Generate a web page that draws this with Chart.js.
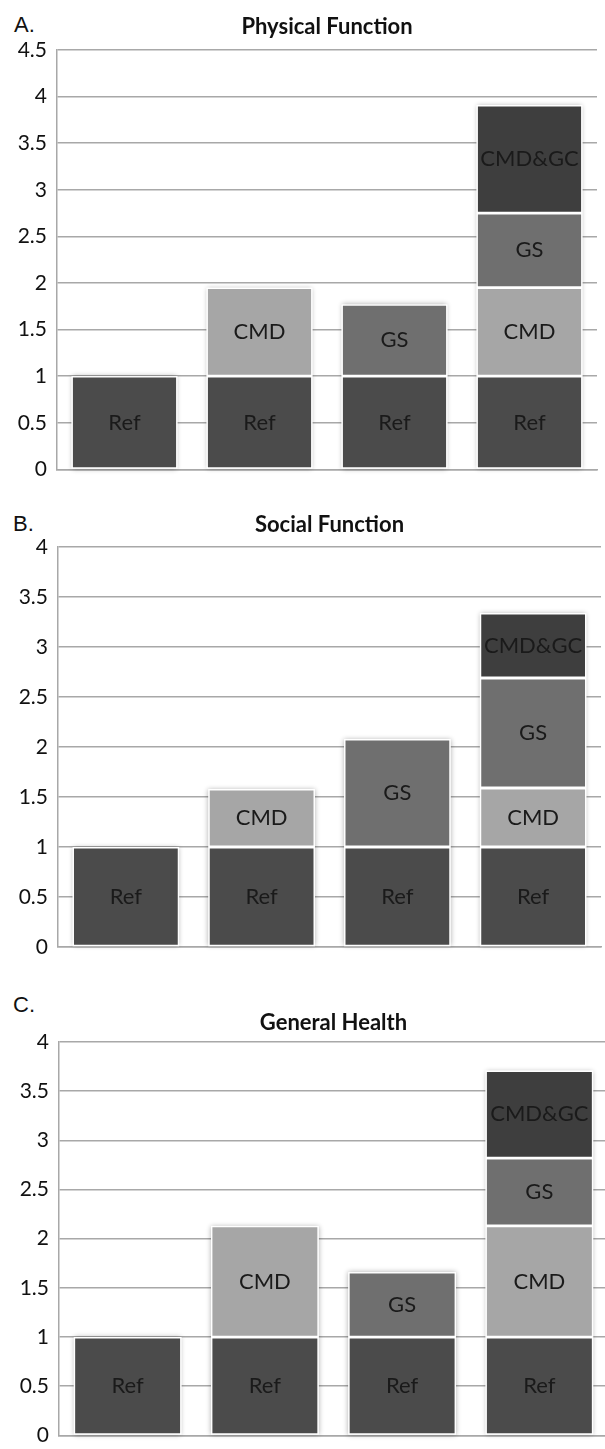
<!DOCTYPE html>
<html>
<head>
<meta charset="utf-8">
<script src="https://cdn.jsdelivr.net/npm/chart.js@4.4.1/dist/chart.umd.min.js"></script>
<style>
  html, body { margin: 0; padding: 0; background: #ffffff; width: 605px; height: 1449px; overflow: hidden; }
  .panel { position: absolute; left: 0; }
  .letter { position: absolute; left: 13px; font-family: "Liberation Sans", Arial, sans-serif; font-size: 22px; line-height: 22px; color: #111; }
</style>
</head>
<body>
<div class="letter" style="top:14px;left:14px">A.</div>
<div class="letter" style="top:513px">B.</div>
<div class="letter" style="top:994px">C.</div>
<canvas id="chartA" class="panel" style="top:0px" width="605" height="492"></canvas>
<canvas id="chartB" class="panel" style="top:483px" width="605" height="492"></canvas>
<canvas id="chartC" class="panel" style="top:966px" width="612" height="492"></canvas>
<script>
// ---------- DATA ----------
const categories = ["Reference", "CMD", "GS", "CMD & GS"];
const seriesNames = ["Ref", "CMD", "GS", "CMD&GC"];

// A. Physical Function (stacked segment sizes)
const physRef   = [1, 1, 1, 1];
const physCMD   = [null, 0.95, null, 0.95];
const physGS    = [null, null, 0.77, 0.80];
const physCMDGC = [null, null, null, 1.16];
const physTicks = [0, 0.5, 1, 1.5, 2, 2.5, 3, 3.5, 4, 4.5];

// B. Social Function
const socRef   = [1, 1, 1, 1];
const socCMD   = [null, 0.58, null, 0.59];
const socGS    = [null, null, 1.08, 1.10];
const socCMDGC = [null, null, null, 0.65];
const socTicks = [0, 0.5, 1, 1.5, 2, 2.5, 3, 3.5, 4];

// C. General Health
const genRef   = [1, 1, 1, 1];
const genCMD   = [null, 1.13, null, 1.13];
const genGS    = [null, null, 0.66, 0.69];
const genCMDGC = [null, null, null, 0.89];
const genTicks = [0, 0.5, 1, 1.5, 2, 2.5, 3, 3.5, 4];

const titles = ["Physical Function", "Social Function", "General Health"];

// ---------- STYLE ----------
const segColors = ["#4b4b4b", "#a6a6a6", "#6f6f6f", "#3e3e3e"];
const gridColor = "#a8a8a8";
const FONT = "Lato, 'Open Sans', 'Liberation Sans', sans-serif";

const shadowPlugin = {
  id: "barShadow",
  beforeDatasetsDraw(chart) {
    const ctx = chart.ctx;
    const n = chart.data.labels.length;
    ctx.save();
    ctx.shadowColor = "rgba(0,0,0,0.32)";
    ctx.shadowBlur = 5;
    ctx.fillStyle = "#ffffff";
    for (let j = 0; j < n; j++) {
      let top = Infinity, bottom = -Infinity, x = null, w = null;
      chart.data.datasets.forEach((ds, i) => {
        if (ds.data[j] == null) return;
        const el = chart.getDatasetMeta(i).data[j];
        top = Math.min(top, el.y);
        bottom = Math.max(bottom, el.base);
        x = el.x; w = el.width;
      });
      if (x !== null) ctx.fillRect(x - w / 2, top, w, bottom - top);
    }
    ctx.restore();
  }
};

const labelPlugin = {
  id: "segLabels",
  afterDatasetsDraw(chart) {
    const ctx = chart.ctx;
    ctx.save();
    ctx.font = "22px " + FONT;
    ctx.fillStyle = "#1a1a1a";
    ctx.textAlign = "center";
    ctx.textBaseline = "middle";
    chart.data.datasets.forEach((ds, i) => {
      const meta = chart.getDatasetMeta(i);
      ds.data.forEach((v, j) => {
        if (v == null) return;
        const el = meta.data[j];
        ctx.fillText(ds.label, el.x, (el.y + el.base) / 2);
      });
    });
    ctx.restore();
  }
};

function makePanel(canvasId, title, series, ticks, target, titlePad) {
  const layoutPadding = { top: 0, left: 0, right: 0, bottom: 0 };
  const titlePadding = { top: titlePad, bottom: target.top - titlePad - 26 };
  const canvas = document.getElementById(canvasId);
  layoutPadding.right = canvas.width - target.right;
  const chart = new Chart(canvas, {
    type: "bar",
    data: {
      labels: categories,
      datasets: series.map((d, i) => ({
        label: seriesNames[i],
        data: d,
        backgroundColor: segColors[i],
        borderColor: "#ffffff",
        borderWidth: 1.4,
        borderSkipped: false,
        barPercentage: 1,
        categoryPercentage: 0.785,
        stack: "s"
      }))
    },
    options: {
      responsive: false,
      animation: false,
      events: [],
      layout: { padding: layoutPadding },
      plugins: {
        legend: { display: false },
        tooltip: { enabled: false },
        title: {
          display: true,
          text: title,
          fullSize: false,
          color: "#111111",
          font: { family: FONT, size: 22, weight: "bold", lineHeight: 1.2 },
          padding: titlePadding
        }
      },
      scales: {
        x: {
          stacked: true,
          ticks: { display: false },
          grid: { display: false },
          border: { display: true, color: gridColor, width: 1.5 }
        },
        y: {
          stacked: true,
          min: ticks[0],
          max: ticks[ticks.length - 1],
          afterBuildTicks: (s) => { s.ticks = ticks.map(v => ({ value: v })); },
          afterFit: (s) => { s.width = target.left; },
          ticks: {
            padding: 10,
            color: "#111111",
            font: { family: FONT, size: 21 },
            callback: (v) => String(v)
          },
          grid: { color: gridColor, lineWidth: 1.5, drawTicks: false },
          border: { display: true, color: gridColor, width: 1.5 }
        }
      }
    },
    plugins: [shadowPlugin, labelPlugin]
  });
  for (let k = 0; k < 5; k++) {
    const ca = chart.chartArea;
    const dTop = target.top - ca.top;
    const dBottom = ca.bottom - target.bottom;
    const dRight = ca.right - target.right;
    if (Math.abs(dTop) < 0.3 && Math.abs(dBottom) < 0.3 && Math.abs(dRight) < 0.3) break;
    titlePadding.bottom = Math.max(0, titlePadding.bottom + dTop);
    layoutPadding.bottom = layoutPadding.bottom + dBottom;
    layoutPadding.right = layoutPadding.right + dRight;
    chart.update();
  }
  return chart;
}

makePanel("chartA", titles[0], [physRef, physCMD, physGS, physCMDGC], physTicks,
  { left: 57, right: 597, top: 50, bottom: 473 }, 14);
makePanel("chartB", titles[1], [socRef, socCMD, socGS, socCMDGC], socTicks,
  { left: 58, right: 601, top: 64, bottom: 464 }, 29);
makePanel("chartC", titles[2], [genRef, genCMD, genGS, genCMDGC], genTicks,
  { left: 59, right: 608, top: 76, bottom: 477 }, 44);
</script>
</body>
</html>
